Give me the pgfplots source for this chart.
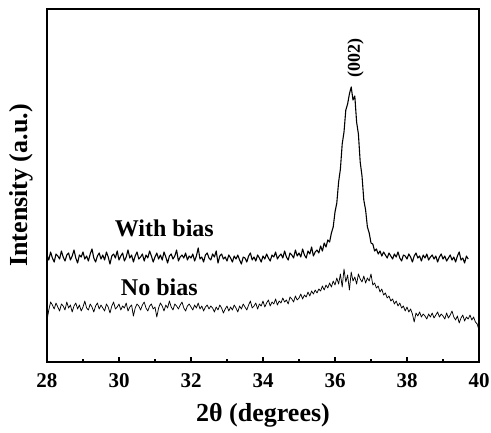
\documentclass[border=0pt]{standalone}
\usepackage{fontspec}
\setmainfont{Liberation Serif}
\usepackage{pgfplots}
\pgfplotsset{compat=1.18}
\usepackage{pgfplotstable}
\pgfplotstableread{
x y
28.00 177
28.05 172
28.10 180
28.15 174
28.20 170
28.25 178
28.30 176
28.35 173
28.40 181
28.45 175
28.50 171
28.55 177
28.60 179
28.65 172
28.70 176
28.75 182
28.80 174
28.85 169
28.90 177
28.95 175
29.00 180
29.05 173
29.10 176
29.15 171
29.20 178
29.25 183
29.30 174
29.35 170
29.40 176
29.45 179
29.50 173
29.55 177
29.60 172
29.65 180
29.70 175
29.75 168
29.80 176
29.85 178
29.90 174
29.95 181
30.00 172
30.05 176
30.10 179
30.15 171
30.20 175
30.25 182
30.30 174
30.35 177
30.40 170
30.45 176
30.50 180
30.55 173
30.60 175
30.65 178
30.70 171
30.75 177
30.80 174
30.85 181
30.90 176
30.95 170
31.00 175
31.05 179
31.10 173
31.15 177
31.20 172
31.25 180
31.30 175
31.35 169
31.40 176
31.45 178
31.50 173
31.55 176
31.60 182
31.65 171
31.70 175
31.75 177
31.80 174
31.85 179
31.90 172
31.95 176
32.00 174
32.05 178
32.10 171
32.15 176
32.20 184
32.25 173
32.30 175
32.35 170
32.40 177
32.45 179
32.50 174
32.55 172
32.60 178
32.65 175
32.70 181
32.75 169
32.80 176
32.85 178
32.90 173
32.95 175
33.00 171
33.05 177
33.10 174
33.15 170
33.20 176
33.25 173
33.30 177
33.35 172
33.40 168
33.45 175
33.50 174
33.55 170
33.60 176
33.65 179
33.70 172
33.75 175
33.80 171
33.85 177
33.90 174
33.95 170
34.00 176
34.05 173
34.10 178
34.15 174
34.20 171
34.25 177
34.30 175
34.35 180
34.40 173
34.45 176
34.50 178
34.55 174
34.60 181
34.65 175
34.70 172
34.75 179
34.80 177
34.85 174
34.90 182
34.95 176
35.00 179
35.05 175
35.10 183
35.15 177
35.20 174
35.25 181
35.30 178
35.35 185
35.40 176
35.45 180
35.50 182
35.55 179
35.60 186
35.65 181
35.70 189
35.75 185
35.80 192
35.85 190
35.90 199
35.95 205
36.00 220
36.05 229
36.10 250
36.15 263
36.20 288
36.25 300
36.30 322
36.35 328
36.40 338
36.45 345
36.50 332
36.55 336
36.60 310
36.65 298
36.70 270
36.75 256
36.80 232
36.85 222
36.90 205
36.95 199
37.00 189
37.05 188
37.10 181
37.15 183
37.20 178
37.25 181
37.30 176
37.35 180
37.40 177
37.45 174
37.50 179
37.55 176
37.60 173
37.65 178
37.70 175
37.75 180
37.80 174
37.85 171
37.90 177
37.95 176
38.00 173
38.05 178
38.10 175
38.15 170
38.20 176
38.25 179
38.30 174
38.35 176
38.40 171
38.45 177
38.50 174
38.55 178
38.60 172
38.65 175
38.70 177
38.75 173
38.80 176
38.85 170
38.90 175
38.95 178
39.00 173
39.05 176
39.10 171
39.15 174
39.20 177
39.25 172
39.30 175
39.35 170
39.40 176
39.45 180
39.50 172
39.55 174
39.60 169
39.65 176
39.70 173
}\withbias
\pgfplotstableread{
x y
28.00 112
28.05 122
28.10 130
28.15 127
28.20 123
28.25 129
28.30 125
28.35 121
28.40 128
28.45 126
28.50 122
28.55 130
28.60 124
28.65 127
28.70 120
28.75 126
28.80 129
28.85 123
28.90 127
28.95 121
29.00 125
29.05 131
29.10 124
29.15 122
29.20 128
29.25 125
29.30 120
29.35 126
29.40 129
29.45 123
29.50 127
29.55 124
29.60 121
29.65 128
29.70 125
29.75 119
29.80 126
29.85 130
29.90 123
29.95 125
30.00 128
30.05 122
30.10 126
30.15 124
30.20 129
30.25 121
30.30 125
30.35 127
30.40 116
30.45 124
30.50 128
30.55 126
30.60 122
30.65 127
30.70 130
30.75 124
30.80 121
30.85 126
30.90 128
30.95 123
31.00 125
31.05 115
31.10 124
31.15 129
31.20 126
31.25 121
31.30 127
31.35 124
31.40 131
31.45 125
31.50 122
31.55 128
31.60 126
31.65 123
31.70 127
31.75 130
31.80 124
31.85 121
31.90 126
31.95 128
32.00 125
32.05 122
32.10 127
32.15 124
32.20 129
32.25 123
32.30 126
32.35 121
32.40 125
32.45 127
32.50 123
32.55 126
32.60 124
32.65 120
32.70 125
32.75 122
32.80 127
32.85 124
32.90 119
32.95 123
33.00 126
33.05 121
33.10 125
33.15 122
33.20 127
33.25 124
33.30 120
33.35 126
33.40 123
33.45 128
33.50 125
33.55 122
33.60 127
33.65 131
33.70 124
33.75 126
33.80 129
33.85 123
33.90 128
33.95 126
34.00 131
34.05 125
34.10 129
34.15 132
34.20 126
34.25 130
34.30 128
34.35 133
34.40 127
34.45 131
34.50 129
34.55 134
34.60 130
34.65 132
34.70 128
34.75 135
34.80 133
34.85 130
34.90 136
34.95 132
35.00 134
35.05 138
35.10 133
35.15 137
35.20 135
35.25 140
35.30 136
35.35 141
35.40 138
35.45 142
35.50 139
35.55 143
35.60 141
35.65 146
35.70 142
35.75 147
35.80 144
35.85 149
35.90 145
35.95 151
36.00 147
36.05 154
36.10 148
36.15 158
36.20 145
36.25 163
36.30 150
36.35 157
36.40 142
36.45 160
36.50 151
36.55 155
36.60 148
36.65 158
36.70 153
36.75 150
36.80 156
36.85 149
36.90 154
36.95 151
37.00 158
37.05 147
37.10 149
37.15 144
37.20 146
37.25 140
37.30 143
37.35 137
37.40 139
37.45 134
37.50 136
37.55 131
37.60 133
37.65 128
37.70 131
37.75 126
37.80 129
37.85 124
37.90 126
37.95 121
38.00 125
38.05 120
38.10 123
38.15 118
38.20 110
38.25 119
38.30 116
38.35 120
38.40 115
38.45 118
38.50 116
38.55 113
38.60 118
38.65 115
38.70 119
38.75 114
38.80 117
38.85 120
38.90 115
38.95 118
39.00 116
39.05 113
39.10 119
39.15 114
39.20 117
39.25 121
39.30 115
39.35 112
39.40 116
39.45 109
39.50 114
39.55 117
39.60 111
39.65 115
39.70 113
39.75 117
39.80 112
39.85 115
39.90 110
39.95 108
40.00 102
}\nobias
\begin{document}
\begin{tikzpicture}
\begin{axis}[
  name=ax,
  scale only axis,
  width=432pt, height=353pt,
  xmin=28, xmax=40, ymin=70, ymax=423,
  xtick={28,30,...,40},
  minor xtick={29,31,...,39},
  ytick=\empty,
  xtick pos=left,
  tick align=inside,
  major tick length=5pt,
  minor tick length=3pt,
  every tick/.style={line width=1.2pt, black},
  axis line style={line width=1.5pt},
  /pgf/number format/assume math mode=true,
  xticklabel style={font=\fontsize{21}{24}\selectfont\bfseries, yshift=-8pt},
  xlabel={2θ (degrees)},
  ylabel={Intensity (a.u.)},
  xlabel style={font=\fontsize{26}{30}\selectfont\bfseries, at={(axis description cs:0.5,-0.15)}, anchor=center},
  ylabel style={font=\fontsize{26}{30}\selectfont\bfseries, at={(axis description cs:-0.06,0.5)}, anchor=center},
]
\addplot[black, line width=1.1pt, line join=round] table[x=x,y=y] {\withbias};
\addplot[black, line width=0.75pt, line join=round] table[x=x,y=y] {\nobias};
\node[anchor=base, font=\fontsize{24}{28}\selectfont\bfseries] at (axis cs:31.26,196) {With bias};
\node[anchor=base, font=\fontsize{24}{28}\selectfont\bfseries] at (axis cs:31.12,137) {No bias};
\node[rotate=90, anchor=center, font=\fontsize{18}{22}\selectfont\bfseries] at (axis cs:36.57,374) {(002)};
\end{axis}
\pgfresetboundingbox
\path (ax.south west) ++(-47pt,-70pt) coordinate (bl);
\path (ax.north east) ++(12pt,9pt) coordinate (tr);
\path[use as bounding box] (bl) rectangle (tr);
\end{tikzpicture}
\end{document}
